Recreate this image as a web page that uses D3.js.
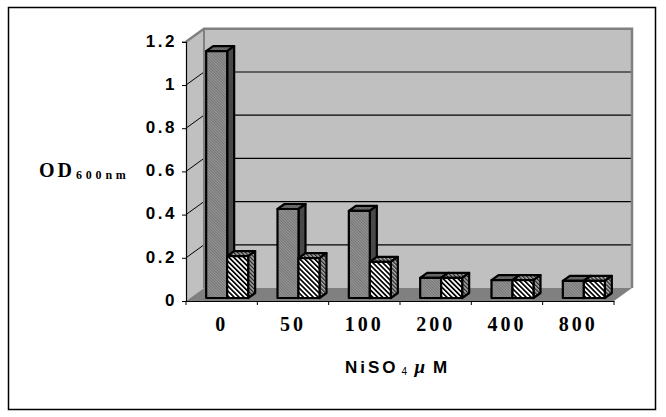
<!DOCTYPE html>
<html>
<head>
<meta charset="utf-8">
<script src="https://cdn.jsdelivr.net/npm/d3@7"></script>
<style>
  html, body { margin: 0; padding: 0; background: #fff; }
  svg { display: block; }
  .ytick text { font: bold 17px "Liberation Sans", Arial, sans-serif; letter-spacing: 2.5px; fill: #000; }
  .xtick text { font: bold 20px "Liberation Serif", serif; letter-spacing: 3px; fill: #000; }
</style>
</head>
<body>
<div id="chart"></div>
<script>
const categories = ["0", "50", "100", "200", "400", "800"];
const series1 = [1.143, 0.412, 0.403, 0.093, 0.083, 0.079];
const series2 = [0.194, 0.185, 0.167, 0.093, 0.083, 0.079];
const yTicks = [0, 0.2, 0.4, 0.6, 0.8, 1, 1.2];

const width = 666, height = 417;
const plot = { left: 186, right: 614, top: 41.8, bottom: 301 };
// how far the back wall sits from the front of the floor
const wall = { dx: 18, dy: -13 };
// bar depth and how far the bars stand in from the front edge
const barDepth = { dx: 7, dy: -5 };
const barInset = { dx: 5.5, dy: -3 };
const barWidth = 21;

const svg = d3.select("#chart")
  .append("svg")
  .attr("width", width)
  .attr("height", height);

const defs = svg.append("defs");

function hatch(id, size, bg, fg, strokeWidth) {
  const p = defs.append("pattern")
    .attr("id", id)
    .attr("patternUnits", "userSpaceOnUse")
    .attr("width", size)
    .attr("height", size)
    .attr("patternTransform", "rotate(-45)");
  p.append("rect").attr("width", size).attr("height", size).attr("fill", bg);
  p.append("rect").attr("width", strokeWidth).attr("height", size).attr("fill", fg);
}
hatch("grayFront", 2, "#979797", "#747474", 1);
hatch("grayTop", 2, "#777", "#555", 1);
hatch("stripes", 3.5, "#fff", "#000", 1.7);
hatch("stripesSide", 2.8, "#b0b0b0", "#222", 1.3);

const x = d3.scaleBand()
  .domain(categories)
  .range([plot.left, plot.right]);

const y = d3.scaleLinear()
  .domain([0, 1.2])
  .range([plot.bottom, plot.top]);

// outer frame
svg.append("rect")
  .attr("x", 8.5)
  .attr("y", 7.5)
  .attr("width", 647)
  .attr("height", 402)
  .attr("fill", "#fff")
  .attr("stroke", "#000")
  .attr("stroke-width", 1.5);

// back wall
svg.append("rect")
  .attr("x", plot.left + wall.dx)
  .attr("y", y(1.2) + wall.dy)
  .attr("width", plot.right - plot.left)
  .attr("height", y(0) - y(1.2))
  .attr("fill", "#c0c0c0");

// side wall
svg.append("polygon")
  .attr("points", [
    [plot.left, y(0)],
    [plot.left, y(1.2)],
    [plot.left + wall.dx, y(1.2) + wall.dy],
    [plot.left + wall.dx, y(0) + wall.dy]
  ].join(" "))
  .attr("fill", "#c0c0c0");

// floor
svg.append("polygon")
  .attr("points", [
    [plot.left, y(0)],
    [plot.left + wall.dx, y(0) + wall.dy],
    [plot.right + wall.dx, y(0) + wall.dy],
    [plot.right, y(0)]
  ].join(" "))
  .attr("fill", "#808080");

// gridlines on the back wall and the diagonals on the side wall
yTicks.slice(1, -1).forEach(t => {
  svg.append("line")
    .attr("x1", plot.left + wall.dx)
    .attr("x2", plot.right + wall.dx)
    .attr("y1", y(t) + wall.dy)
    .attr("y2", y(t) + wall.dy)
    .attr("stroke", "#000")
    .attr("stroke-width", 1.2);
  svg.append("line")
    .attr("x1", plot.left)
    .attr("x2", plot.left + wall.dx)
    .attr("y1", y(t))
    .attr("y2", y(t) + wall.dy)
    .attr("stroke", "#000");
});

// grey edges of the walls
svg.append("polyline")
  .attr("points", [
    [plot.left, y(1.2)],
    [plot.left + wall.dx, y(1.2) + wall.dy],
    [plot.right + wall.dx, y(1.2) + wall.dy],
    [plot.right + wall.dx, y(0) + wall.dy]
  ].join(" "))
  .attr("fill", "none")
  .attr("stroke", "#808080")
  .attr("stroke-width", 2.5);
svg.append("line")
  .attr("x1", plot.left + wall.dx)
  .attr("x2", plot.left + wall.dx)
  .attr("y1", y(1.2) + wall.dy)
  .attr("y2", y(0) + wall.dy)
  .attr("stroke", "#808080")
  .attr("stroke-width", 2);

// y axis
const yAxis = svg.append("g")
  .attr("class", "ytick")
  .attr("transform", `translate(${plot.left}, 0)`)
  .call(d3.axisLeft(y).tickValues(yTicks).tickFormat(d => d).tickSize(4).tickPadding(5));
yAxis.select(".domain").attr("stroke", "#000").attr("stroke-width", 1.2);
yAxis.selectAll("text").attr("dy", "0.25em");

// x axis, the ticks sit on the band edges so they are drawn after
const xAxis = svg.append("g")
  .attr("class", "xtick")
  .attr("transform", `translate(0, ${plot.bottom})`)
  .call(d3.axisBottom(x).tickSize(0).tickPadding(16));
xAxis.select(".domain").attr("stroke", "#000").attr("stroke-width", 1.2);
xAxis.selectAll(".edge")
  .data(categories.concat("end"))
  .enter()
  .append("line")
  .attr("x1", (d, i) => plot.left + i * x.step())
  .attr("x2", (d, i) => plot.left + i * x.step())
  .attr("y1", 0)
  .attr("y2", 4)
  .attr("stroke", "#000");

function drawBar(cat, value, offset, front, top, side) {
  const x0 = x(cat) + x.bandwidth() / 2 + barInset.dx + offset;
  const x1 = x0 + barWidth;
  const y0 = y(0) + barInset.dy;
  const y1 = y(value) + barInset.dy;
  const g = svg.append("g")
    .attr("stroke", "#000")
    .attr("stroke-width", 2.2)
    .attr("stroke-linejoin", "round");
  g.append("polygon")
    .attr("points", [
      [x0, y1], [x0 + barDepth.dx, y1 + barDepth.dy],
      [x1 + barDepth.dx, y1 + barDepth.dy], [x1, y1]
    ].join(" "))
    .attr("fill", top);
  g.append("polygon")
    .attr("points", [
      [x1, y1], [x1 + barDepth.dx, y1 + barDepth.dy],
      [x1 + barDepth.dx, y0 + barDepth.dy], [x1, y0]
    ].join(" "))
    .attr("fill", side);
  g.append("rect")
    .attr("x", x0)
    .attr("y", y1)
    .attr("width", barWidth)
    .attr("height", y0 - y1)
    .attr("fill", front);
}

categories.forEach((cat, i) => {
  drawBar(cat, series1[i], -barWidth, "url(#grayFront)", "url(#grayTop)", "#484848");
  drawBar(cat, series2[i], 0, "url(#stripes)", "url(#stripesSide)", "url(#stripesSide)");
});

// y axis title
const yTitle = svg.append("text")
  .attr("x", 39)
  .attr("y", 177)
  .attr("font-family", '"Liberation Serif", serif')
  .attr("font-weight", "bold")
  .attr("font-size", 20)
  .attr("letter-spacing", 3)
  .text("OD");
yTitle.append("tspan")
  .attr("font-size", 12)
  .attr("letter-spacing", 3.8)
  .attr("dx", 1)
  .attr("dy", 2)
  .text("600nm");

// x axis title
const xTitle = svg.append("text")
  .attr("x", 345)
  .attr("y", 373)
  .attr("font-family", '"Liberation Sans", Arial, sans-serif')
  .attr("font-weight", "bold")
  .attr("font-size", 17)
  .attr("letter-spacing", 3)
  .text("NiSO");
xTitle.append("tspan")
  .attr("font-size", 10)
  .attr("font-weight", "normal")
  .attr("dx", 3)
  .attr("dy", 2)
  .text("4");
xTitle.append("tspan")
  .attr("font-family", '"Liberation Serif", serif')
  .attr("font-size", 19)
  .attr("font-style", "italic")
  .attr("dx", 4)
  .attr("dy", -2)
  .text("µ");
xTitle.append("tspan")
  .attr("dx", 5)
  .text("M");
</script>
</body>
</html>
